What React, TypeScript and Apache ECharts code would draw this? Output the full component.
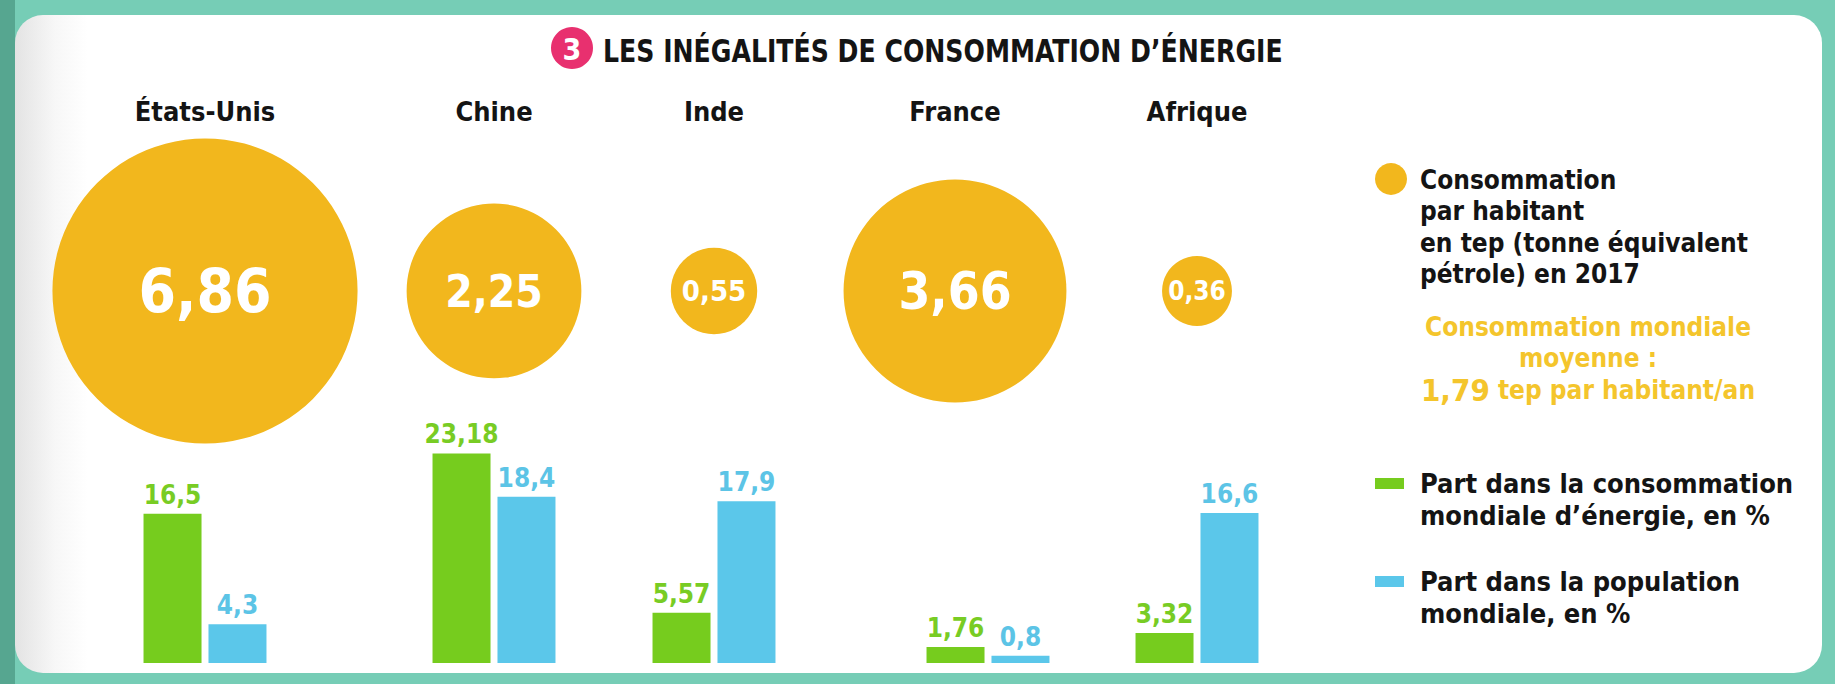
import React, { useEffect, useRef } from "react";
import * as echarts from "echarts";

// ---------- DATA ----------
const countries = ["États-Unis", "Chine", "Inde", "France", "Afrique"];
// Consommation par habitant en tep (2017)
const consumptionPerCapita = [6.86, 2.25, 0.55, 3.66, 0.36];
// Part dans la consommation mondiale d'énergie, en %
const energyShare = [16.5, 23.18, 5.57, 1.76, 3.32];
// Part dans la population mondiale, en %
const populationShare = [4.3, 18.4, 17.9, 0.8, 16.6];
// Consommation mondiale moyenne (tep par habitant/an)
const worldAverage = 1.79;

const titleNumber = "3";
const titleText = "LES INÉGALITÉS DE CONSOMMATION D’ÉNERGIE";
const legendConsumptionLines = [
  "Consommation",
  "par habitant",
  "en tep (tonne équivalent",
  "pétrole) en 2017",
];
const legendAverageLines = ["Consommation mondiale", "moyenne :"];
const legendAverageUnit = " tep par habitant/an";
const energyName = "Part dans la consommation\nmondiale d’énergie, en %";
const populationName = "Part dans la population\nmondiale, en %";
const consumptionName = "Consommation par habitant en tep (tonne équivalent pétrole) en 2017";

// ---------- LAYOUT / STYLE ----------
const W = 1835;
const H = 684;
const FONT = "'DejaVu Sans Condensed', 'DejaVu Sans', sans-serif";
const TEAL = "#76cdb6";
const YELLOW = "#f2b71d";
const YELLOW_TEXT = "#f4c52c";
const GREEN = "#76cc1e";
const BLUE = "#5bc7ea";
const INK = "#141414";
const PINK = "#e8306f";
const circleCenters = [205, 494, 714, 955, 1197];
const barCenters = [205, 494, 714, 988, 1197];
const SIZE_K = 116.5; // circle diameter = K * sqrt(value) (area ∝ value)

const fmt = (v: number, digits?: number) =>
  (digits != null ? v.toFixed(digits) : String(v)).replace(".", ",");

export default function App() {
  const ref = useRef<HTMLDivElement>(null);

  useEffect(() => {
    document.body.style.margin = "0";
    if (!ref.current) return;
    const chart = echarts.init(ref.current, null, { renderer: "svg" });

    const n = countries.length;
    const grids: any[] = [];
    const xAxes: any[] = [];
    const yAxes: any[] = [];
    const series: any[] = [];

    // Circle grids (0..n-1)
    for (let i = 0; i < n; i++) {
      grids.push({ left: circleCenters[i] - 120, width: 240, top: 140, height: 302 });
      xAxes.push({
        gridIndex: i,
        type: "category",
        data: [countries[i]],
        position: "top",
        axisLine: { show: false },
        axisTick: { show: false },
        splitLine: { show: false },
        axisLabel: {
          show: true,
          margin: 15,
          color: INK,
          fontFamily: FONT,
          fontWeight: "bold",
          fontSize: 27,
        },
      });
      yAxes.push({ gridIndex: i, type: "category", data: ["tep"], show: false });
      const v = consumptionPerCapita[i];
      const d = SIZE_K * Math.sqrt(v);
      series.push({
        type: "scatter",
        name: consumptionName,
        xAxisIndex: i,
        yAxisIndex: i,
        symbol: "circle",
        symbolSize: (val: any) => SIZE_K * Math.sqrt(val[2]),
        itemStyle: { color: YELLOW, opacity: 1 },
        label: {
          show: true,
          position: "inside",
          color: "#ffffff",
          fontFamily: FONT,
          fontWeight: "bold",
          formatter: (p: any) => fmt(p.value[2], 2),
        },
        data: [
          {
            value: [countries[i], "tep", v],
            label: { fontSize: Math.round(3.8 * Math.sqrt(d) - 6) },
          },
        ],
      });
    }

    // Bar grids (n..2n-1)
    for (let i = 0; i < n; i++) {
      const gi = n + i;
      grids.push({ left: barCenters[i] - 100, width: 200, top: 437, height: 226 });
      xAxes.push({ gridIndex: gi, type: "category", data: [countries[i]], show: false });
      yAxes.push({ gridIndex: gi, type: "value", min: 0, max: 25, show: false });
      const labelBase = {
        show: true,
        position: "top",
        distance: 6,
        fontFamily: FONT,
        fontWeight: "bold",
        fontSize: 26,
        formatter: (p: any) => fmt(p.value),
      };
      series.push({
        type: "bar",
        name: energyName,
        xAxisIndex: gi,
        yAxisIndex: gi,
        barWidth: 58,
        barGap: "12%",
        itemStyle: { color: GREEN },
        label: { ...labelBase, color: "#78cc24" },
        data: [energyShare[i]],
      });
      series.push({
        type: "bar",
        name: populationName,
        xAxisIndex: gi,
        yAxisIndex: gi,
        barWidth: 58,
        barGap: "12%",
        itemStyle: { color: BLUE },
        label: { ...labelBase, color: "#5cc4e6" },
        data: [populationShare[i]],
      });
    }

    const txt = (x: number, y: number, text: string, o: any = {}) => ({
      type: "text",
      x,
      y,
      style: {
        text,
        fill: o.fill || INK,
        font: `bold ${o.size || 26}px ${FONT}`,
        align: o.align || "left",
        verticalAlign: "middle",
        ...(o.rich ? { rich: o.rich } : {}),
      },
      ...(o.scaleX ? { scaleX: o.scaleX } : {}),
    });

    const graphic: any[] = [
      // teal frame & white panel
      { type: "rect", z: -20, shape: { x: 0, y: 0, width: 15, height: H }, style: { fill: "#56a690" } },
      {
        type: "rect",
        z: -10,
        shape: { x: 15, y: 15, width: 1807, height: 658, r: 28 },
        style: {
          fill: new echarts.graphic.LinearGradient(0, 0, 1, 0, [
            { offset: 0, color: "#e3e3e3" },
            { offset: 0.022, color: "#f7f7f7" },
            { offset: 0.04, color: "#ffffff" },
            { offset: 1, color: "#ffffff" },
          ]),
        },
      },
      // title
      { type: "circle", shape: { cx: 572, cy: 48, r: 21 }, style: { fill: PINK } },
      txt(572, 49, titleNumber, { fill: "#fff", size: 30, align: "center" }),
      txt(603, 51, titleText, { size: 32, scaleX: 0.875 }),
      // legend: circle
      { type: "circle", shape: { cx: 1391, cy: 179, r: 16 }, style: { fill: YELLOW } },
      ...legendConsumptionLines.map((l, k) => txt(1420, 180 + k * 31.3, l, { size: 26 })),
      ...legendAverageLines.map((l, k) =>
        txt(1588, 327 + k * 31, l, { size: 26, fill: YELLOW_TEXT, align: "center" })
      ),
      txt(1588, 390, `{big|${fmt(worldAverage)}}{n|${legendAverageUnit}}`, {
        size: 26,
        fill: YELLOW_TEXT,
        align: "center",
        rich: {
          big: { font: `bold 31px ${FONT}`, fill: YELLOW_TEXT },
          n: { font: `bold 26px ${FONT}`, fill: YELLOW_TEXT },
        },
      }),
      // legend: bars
      { type: "rect", shape: { x: 1375, y: 478, width: 29, height: 11 }, style: { fill: GREEN } },
      ...energyName.split("\n").map((l, k) => txt(1420, 483 + k * 32, l, { size: 27 })),
      { type: "rect", shape: { x: 1375, y: 576, width: 29, height: 11 }, style: { fill: BLUE } },
      ...populationName.split("\n").map((l, k) => txt(1420, 581 + k * 32, l, { size: 27 })),
    ];

    chart.setOption({
      animation: false,
      backgroundColor: TEAL,
      grid: grids,
      xAxis: xAxes,
      yAxis: yAxes,
      series,
      graphic: { elements: graphic },
      tooltip: { show: false },
    });

    return () => chart.dispose();
  }, []);

  return <div ref={ref} style={{ width: W, height: H }} />;
}
